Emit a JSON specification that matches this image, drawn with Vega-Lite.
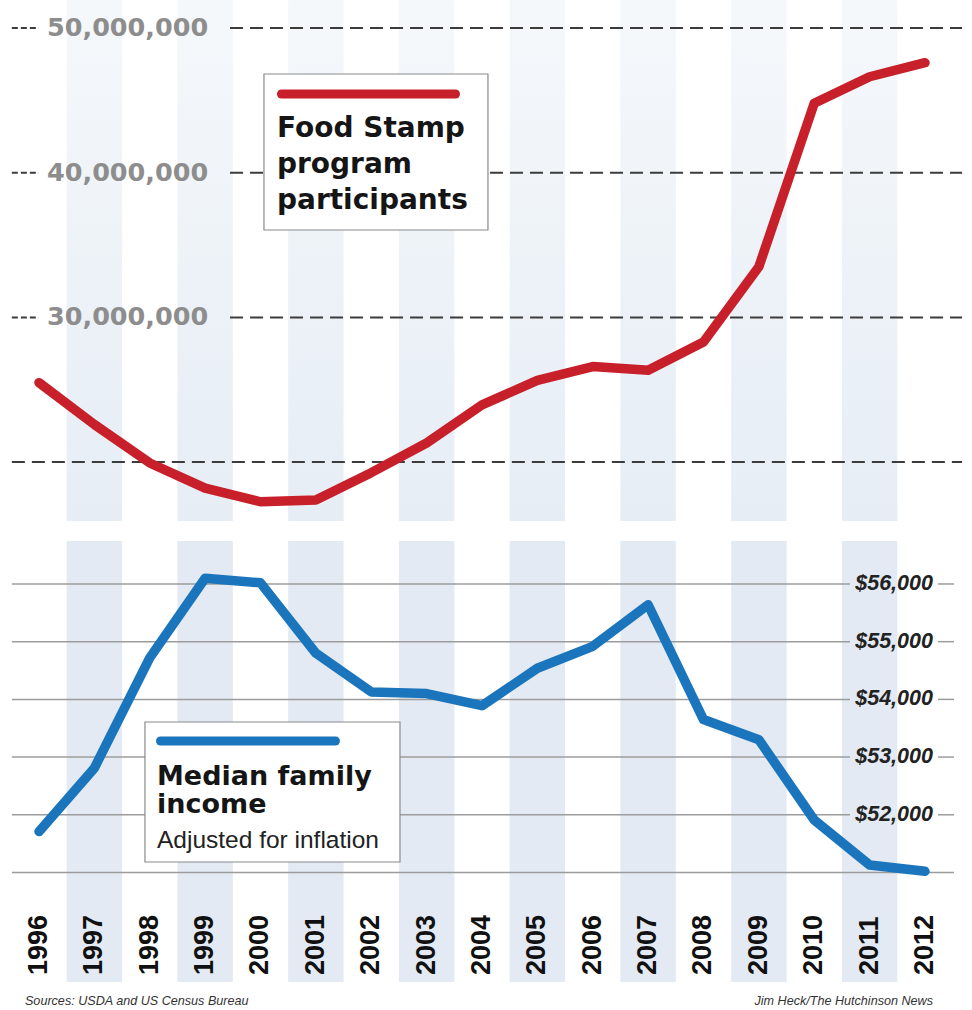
{
  "$schema": "https://vega.github.io/schema/vega-lite/v6.json",
  "padding": 0,
  "background": "white",
  "spacing": 20,
  "config": {"view": {"stroke": null}, "axis": {"disable": true}},
  "datasets": {
    "fs": [
      {"year": 1996, "participants": 25490000},
      {"year": 1997, "participants": 22600000},
      {"year": 1998, "participants": 19940000},
      {"year": 1999, "participants": 18200000},
      {"year": 2000, "participants": 17260000},
      {"year": 2001, "participants": 17380000},
      {"year": 2002, "participants": 19270000},
      {"year": 2003, "participants": 21320000},
      {"year": 2004, "participants": 23950000},
      {"year": 2005, "participants": 25650000},
      {"year": 2006, "participants": 26600000},
      {"year": 2007, "participants": 26350000},
      {"year": 2008, "participants": 28300000},
      {"year": 2009, "participants": 33500000},
      {"year": 2010, "participants": 44800000},
      {"year": 2011, "participants": 46630000},
      {"year": 2012, "participants": 47600000}
    ],
    "inc": [
      {"year": 1996, "income": 51710},
      {"year": 1997, "income": 52810},
      {"year": 1998, "income": 54720},
      {"year": 1999, "income": 56100},
      {"year": 2000, "income": 56020},
      {"year": 2001, "income": 54800},
      {"year": 2002, "income": 54130},
      {"year": 2003, "income": 54100},
      {"year": 2004, "income": 53890},
      {"year": 2005, "income": 54540},
      {"year": 2006, "income": 54920},
      {"year": 2007, "income": 55640},
      {"year": 2008, "income": 53650},
      {"year": 2009, "income": 53300},
      {"year": 2010, "income": 51910},
      {"year": 2011, "income": 51130},
      {"year": 2012, "income": 51020}
    ],
    "stripes": [
      {"year": 1997}, {"year": 1999}, {"year": 2001}, {"year": 2003},
      {"year": 2005}, {"year": 2007}, {"year": 2009}, {"year": 2011}
    ],
    "topTicks": [
      {"v": 50000000, "label": "50,000,000"},
      {"v": 40000000, "label": "40,000,000"},
      {"v": 30000000, "label": "30,000,000"}
    ],
    "incTicks": [
      {"v": 56000, "label": "$56,000"},
      {"v": 55000, "label": "$55,000"},
      {"v": 54000, "label": "$54,000"},
      {"v": 53000, "label": "$53,000"},
      {"v": 52000, "label": "$52,000"}
    ],
    "one": [{}]
  },
  "vconcat": [
    {
      "width": 972,
      "height": 521,
      "layer": [
        {
          "data": {"name": "stripes"},
          "mark": {"type": "rect", "width": 55.4, "color": {"gradient": "linear", "x1": 0, "y1": 0, "x2": 0, "y2": 1, "stops": [{"offset": 0, "color": "#f5f8fb"}, {"offset": 1, "color": "#e6edf5"}]}},
          "encoding": {
            "x": {"field": "year", "type": "quantitative", "scale": {"domain": [1995.296, 2012.849], "nice": false, "zero": false}},
            "y": {"datum": 51935000, "type": "quantitative", "scale": {"domain": [15930000, 51935000], "nice": false, "zero": false}},
            "y2": {"datum": 15930000}
          }
        },
        {
          "data": {"name": "topTicks"},
          "mark": {"type": "rule", "color": "#3c3c3c", "strokeWidth": 2, "strokeDash": [13, 7]},
          "encoding": {
            "x": {"datum": 1999.45, "type": "quantitative", "scale": {"domain": [1995.296, 2012.849], "nice": false, "zero": false}},
            "x2": {"datum": 2012.67},
            "y": {"field": "v", "type": "quantitative", "scale": {"domain": [15930000, 51935000], "nice": false, "zero": false}}
          }
        },
        {
          "data": {"name": "topTicks"},
          "mark": {"type": "rule", "color": "#3c3c3c", "strokeWidth": 2, "strokeDash": [6, 3]},
          "encoding": {
            "x": {"datum": 1995.51, "type": "quantitative", "scale": {"domain": [1995.296, 2012.849], "nice": false, "zero": false}},
            "x2": {"datum": 1996.0},
            "y": {"field": "v", "type": "quantitative", "scale": {"domain": [15930000, 51935000], "nice": false, "zero": false}}
          }
        },
        {
          "data": {"name": "one"},
          "mark": {"type": "rule", "color": "#3c3c3c", "strokeWidth": 2, "strokeDash": [13, 7]},
          "encoding": {
            "x": {"datum": 1995.51, "type": "quantitative", "scale": {"domain": [1995.296, 2012.849], "nice": false, "zero": false}},
            "x2": {"datum": 2012.67},
            "y": {"datum": 20000000, "type": "quantitative", "scale": {"domain": [15930000, 51935000], "nice": false, "zero": false}}
          }
        },
        {
          "data": {"name": "topTicks"},
          "mark": {"type": "text", "align": "left", "baseline": "middle", "font": "DejaVu Sans", "fontWeight": "bold", "fontSize": 25.5, "color": "#8d8d8d"},
          "encoding": {
            "x": {"datum": 1996.144, "type": "quantitative", "scale": {"domain": [1995.296, 2012.849], "nice": false, "zero": false}},
            "y": {"field": "v", "type": "quantitative", "scale": {"domain": [15930000, 51935000], "nice": false, "zero": false}},
            "text": {"field": "label"}
          }
        },
        {
          "data": {"name": "one"},
          "mark": {"type": "rect", "fill": "white", "stroke": "#8a8a8a", "strokeWidth": 1.2},
          "encoding": {
            "x": {"datum": 2000.063, "type": "quantitative", "scale": {"domain": [1995.296, 2012.849], "nice": false, "zero": false}},
            "x2": {"datum": 2004.108},
            "y": {"datum": 46820000, "type": "quantitative", "scale": {"domain": [15930000, 51935000], "nice": false, "zero": false}},
            "y2": {"datum": 36040000}
          }
        },
        {
          "data": {"name": "one"},
          "mark": {"type": "rule", "color": "#c8202a", "strokeWidth": 9, "strokeCap": "round"},
          "encoding": {
            "x": {"datum": 2000.379, "type": "quantitative", "scale": {"domain": [1995.296, 2012.849], "nice": false, "zero": false}},
            "x2": {"datum": 2003.522},
            "y": {"datum": 45440000, "type": "quantitative", "scale": {"domain": [15930000, 51935000], "nice": false, "zero": false}}
          }
        },
        {
          "data": {"name": "one"},
          "mark": {"type": "text", "text": ["Food Stamp", "program", "participants"], "lineHeight": 36, "align": "left", "baseline": "alphabetic", "font": "DejaVu Sans", "fontWeight": "bold", "fontSize": 28, "color": "#151515"},
          "encoding": {
            "x": {"datum": 2000.298, "type": "quantitative", "scale": {"domain": [1995.296, 2012.849], "nice": false, "zero": false}},
            "y": {"datum": 42467000, "type": "quantitative", "scale": {"domain": [15930000, 51935000], "nice": false, "zero": false}}
          }
        },
        {
          "data": {"name": "fs"},
          "mark": {"type": "line", "color": "#c8202a", "strokeWidth": 9.5, "strokeCap": "round", "strokeJoin": "round"},
          "encoding": {
            "x": {"field": "year", "type": "quantitative", "scale": {"domain": [1995.296, 2012.849], "nice": false, "zero": false}},
            "y": {"field": "participants", "type": "quantitative", "scale": {"domain": [15930000, 51935000], "nice": false, "zero": false}}
          }
        }
      ]
    },
    {
      "width": 972,
      "height": 441,
      "layer": [
        {
          "data": {"name": "stripes"},
          "mark": {"type": "rect", "width": 55.4, "color": "#e3eaf3"},
          "encoding": {
            "x": {"field": "year", "type": "quantitative", "scale": {"domain": [1995.296, 2012.849], "nice": false, "zero": false}},
            "y": {"datum": 56745, "type": "quantitative", "scale": {"domain": [49102, 56745], "nice": false, "zero": false}},
            "y2": {"datum": 49102}
          }
        },
        {
          "data": {"name": "incTicks"},
          "mark": {"type": "rule", "color": "#9c9c9c", "strokeWidth": 1.5},
          "encoding": {
            "x": {"datum": 1995.51, "type": "quantitative", "scale": {"domain": [1995.296, 2012.849], "nice": false, "zero": false}},
            "x2": {"datum": 2010.646},
            "y": {"field": "v", "type": "quantitative", "scale": {"domain": [49102, 56745], "nice": false, "zero": false}}
          }
        },
        {
          "data": {"name": "incTicks"},
          "mark": {"type": "rule", "color": "#9c9c9c", "strokeWidth": 1.5},
          "encoding": {
            "x": {"datum": 2012.235, "type": "quantitative", "scale": {"domain": [1995.296, 2012.849], "nice": false, "zero": false}},
            "x2": {"datum": 2012.524},
            "y": {"field": "v", "type": "quantitative", "scale": {"domain": [49102, 56745], "nice": false, "zero": false}}
          }
        },
        {
          "data": {"name": "one"},
          "mark": {"type": "rule", "color": "#9c9c9c", "strokeWidth": 1.5},
          "encoding": {
            "x": {"datum": 1995.51, "type": "quantitative", "scale": {"domain": [1995.296, 2012.849], "nice": false, "zero": false}},
            "x2": {"datum": 2012.524},
            "y": {"datum": 51000, "type": "quantitative", "scale": {"domain": [49102, 56745], "nice": false, "zero": false}}
          }
        },
        {
          "data": {"name": "incTicks"},
          "mark": {"type": "text", "align": "right", "baseline": "middle", "font": "Liberation Sans", "fontWeight": "bold", "fontStyle": "italic", "fontSize": 21.5, "color": "#222222"},
          "encoding": {
            "x": {"datum": 2012.144, "type": "quantitative", "scale": {"domain": [1995.296, 2012.849], "nice": false, "zero": false}},
            "y": {"field": "v", "type": "quantitative", "scale": {"domain": [49102, 56745], "nice": false, "zero": false}},
            "text": {"field": "label"}
          }
        },
        {
          "data": {"name": "inc"},
          "mark": {"type": "line", "color": "#1b75bc", "strokeWidth": 9.5, "strokeCap": "round", "strokeJoin": "round"},
          "encoding": {
            "x": {"field": "year", "type": "quantitative", "scale": {"domain": [1995.296, 2012.849], "nice": false, "zero": false}},
            "y": {"field": "income", "type": "quantitative", "scale": {"domain": [49102, 56745], "nice": false, "zero": false}}
          }
        },
        {
          "data": {"name": "one"},
          "mark": {"type": "rect", "fill": "white", "stroke": "#8a8a8a", "strokeWidth": 1.2},
          "encoding": {
            "x": {"datum": 1997.914, "type": "quantitative", "scale": {"domain": [1995.296, 2012.849], "nice": false, "zero": false}},
            "x2": {"datum": 2002.519},
            "y": {"datum": 53608, "type": "quantitative", "scale": {"domain": [49102, 56745], "nice": false, "zero": false}},
            "y2": {"datum": 51182}
          }
        },
        {
          "data": {"name": "one"},
          "mark": {"type": "rule", "color": "#1b75bc", "strokeWidth": 9, "strokeCap": "round"},
          "encoding": {
            "x": {"datum": 1998.194, "type": "quantitative", "scale": {"domain": [1995.296, 2012.849], "nice": false, "zero": false}},
            "x2": {"datum": 2001.354},
            "y": {"datum": 53279, "type": "quantitative", "scale": {"domain": [49102, 56745], "nice": false, "zero": false}}
          }
        },
        {
          "data": {"name": "one"},
          "mark": {"type": "text", "text": ["Median family", "income"], "lineHeight": 28, "align": "left", "baseline": "alphabetic", "font": "DejaVu Sans", "fontWeight": "bold", "fontSize": 27, "color": "#151515"},
          "encoding": {
            "x": {"datum": 1998.131, "type": "quantitative", "scale": {"domain": [1995.296, 2012.849], "nice": false, "zero": false}},
            "y": {"datum": 52516, "type": "quantitative", "scale": {"domain": [49102, 56745], "nice": false, "zero": false}}
          }
        },
        {
          "data": {"name": "one"},
          "mark": {"type": "text", "text": "Adjusted for inflation", "align": "left", "baseline": "alphabetic", "font": "Liberation Sans", "fontSize": 24.5, "color": "#222222"},
          "encoding": {
            "x": {"datum": 1998.131, "type": "quantitative", "scale": {"domain": [1995.296, 2012.849], "nice": false, "zero": false}},
            "y": {"datum": 51425, "type": "quantitative", "scale": {"domain": [49102, 56745], "nice": false, "zero": false}}
          }
        },
        {
          "data": {"name": "inc"},
          "mark": {"type": "text", "angle": 270, "align": "left", "baseline": "middle", "font": "Liberation Sans", "fontWeight": "bold", "fontSize": 27, "color": "#111111"},
          "encoding": {
            "x": {"field": "year", "type": "quantitative", "scale": {"domain": [1995.296, 2012.849], "nice": false, "zero": false}},
            "y": {"datum": 49224, "type": "quantitative", "scale": {"domain": [49102, 56745], "nice": false, "zero": false}},
            "text": {"field": "year", "type": "quantitative", "format": "d"}
          }
        },
        {
          "data": {"name": "one"},
          "mark": {"type": "text", "text": "Sources: USDA and US Census Bureau", "align": "left", "baseline": "middle", "font": "Liberation Sans", "fontStyle": "italic", "fontSize": 12.6, "color": "#333333"},
          "encoding": {
            "x": {"datum": 1995.747, "type": "quantitative", "scale": {"domain": [1995.296, 2012.849], "nice": false, "zero": false}},
            "y": {"datum": 48773, "type": "quantitative", "scale": {"domain": [49102, 56745], "nice": false, "zero": false}}
          }
        },
        {
          "data": {"name": "one"},
          "mark": {"type": "text", "text": "Jim Heck/The Hutchinson News", "align": "right", "baseline": "middle", "font": "Liberation Sans", "fontStyle": "italic", "fontSize": 12.6, "color": "#333333"},
          "encoding": {
            "x": {"datum": 2012.144, "type": "quantitative", "scale": {"domain": [1995.296, 2012.849], "nice": false, "zero": false}},
            "y": {"datum": 48773, "type": "quantitative", "scale": {"domain": [49102, 56745], "nice": false, "zero": false}}
          }
        }
      ]
    }
  ]
}
